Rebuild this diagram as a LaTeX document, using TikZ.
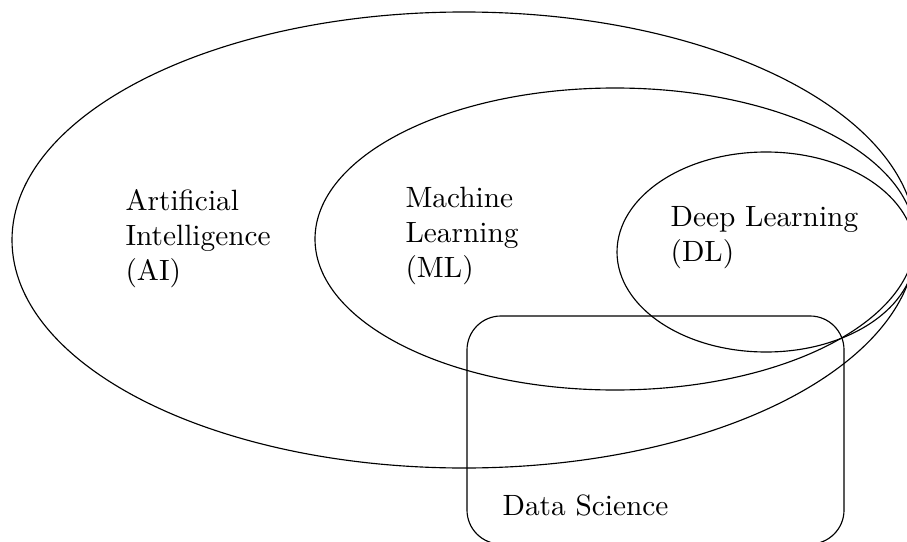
\documentclass[tikz,border=0pt]{standalone}
\begin{document}
\begin{tikzpicture}[x=0.3509pt, y=-0.3509pt,
  setlabel/.style={align=left, inner sep=0pt, anchor=base west,
    font=\fontsize{10.3}{12.2}\selectfont}]
  \useasboundingbox (0,0) rectangle (907,541);
  % nested fields
  \draw (464,240) ellipse (452 and 228);
  \draw (615,239) ellipse (300 and 151);
  \draw (766,252) ellipse (149 and 100);
  % data science box
  \draw[rounded corners=11.9pt] (467,316) rectangle (844,544);
  % labels (base anchor sits on the last line)
  \node[setlabel] (ai) at (125,280) {Artificial\\Intelligence\\(AI)};
  \node[setlabel] (ml) at (405,277) {Machine\\Learning\\(ML)};
  \node[setlabel] (dl) at (670,261) {Deep Learning\\(DL)};
  \node[setlabel] (ds) at (502,515) {Data Science};
\end{tikzpicture}
\end{document}
